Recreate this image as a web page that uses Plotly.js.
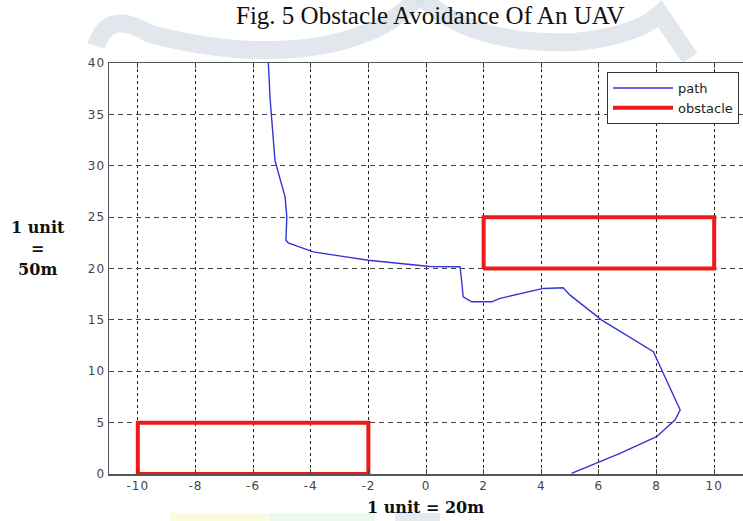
<!DOCTYPE html>
<html>
<head>
<meta charset="utf-8">
<script src="https://cdn.plot.ly/plotly-3.0.1.min.js"></script>
<style>
  html, body { margin: 0; padding: 0; background: #ffffff; }
  #chart { width: 743px; height: 521px; }
  #chart .xtick text, #chart .ytick text { letter-spacing: 1px; }
</style>
</head>
<body>
<div id="chart"></div>
<script>
// ---- data ----
const pathX = [5.05, 5.92, 6.73, 8.0, 8.64, 8.82, 8.0, 7.89, 6.10, 5.0, 4.76, 4.07, 2.57, 2.28, 1.59, 1.29, 1.24, 1.18, 0.14, -2.0, -2.95, -3.91, -4.78, -4.86, -4.83, -4.89, -5.24, -5.35, -5.41, -5.47];
const pathY = [0.07, 1.04, 2.01, 3.63, 5.25, 6.23, 11.09, 11.9, 14.98, 17.41, 18.12, 18.06, 17.09, 16.76, 16.76, 17.25, 18.71, 20.17, 20.2, 20.8, 21.2, 21.62, 22.5, 22.76, 25.03, 26.97, 30.5, 34.9, 36.55, 40];

const obstacle1X = [2, 10, 10, 2, 2];
const obstacle1Y = [20, 20, 25, 25, 20];
const obstacle2X = [-10, -2, -2, -10, -10];
const obstacle2Y = [0, 0, 5, 5, 0];

const xTicks = [-10, -8, -6, -4, -2, 0, 2, 4, 6, 8, 10];
const yTicks = [0, 5, 10, 15, 20, 25, 30, 35, 40];

const titleText = "Fig. 5 Obstacle Avoidance Of An UAV";
const xLabel = "1 unit = 20m";
const yLabel = "1 unit<br>=<br>50m";

// ---- layout geometry helpers (pixel -> paper) ----
const W = 743, H = 521;
const M = { l: 109, r: 0, t: 63, b: 47 };
const PW = W - M.l - M.r, PH = H - M.t - M.b;
const px = x => (x - M.l) / PW;
const py = y => (H - M.b - y) / PH;

function pathFromPixels(pts) {
  return pts.map(p => {
    const c = p[0];
    const nums = [];
    for (let i = 1; i < p.length; i += 2) nums.push(px(p[i]).toFixed(4) + ',' + py(p[i + 1]).toFixed(4));
    return c + nums.join(' ');
  }).join(' ');
}

const traces = [
  {
    x: pathX, y: pathY, type: 'scatter', mode: 'lines', name: 'path',
    line: { color: '#3434d4', width: 1.4 }
  },
  {
    x: obstacle1X, y: obstacle1Y, type: 'scatter', mode: 'lines', name: 'obstacle',
    line: { color: '#ee1a1a', width: 4 }
  },
  {
    x: obstacle2X, y: obstacle2Y, type: 'scatter', mode: 'lines', name: 'obstacle',
    line: { color: '#ee1a1a', width: 4 }, showlegend: false
  }
];

const wmColor = 'rgba(218,225,231,0.8)';
const shapes = [
  {
    type: 'path', xref: 'paper', yref: 'paper', layer: 'below',
    path: pathFromPixels([['M', 96, 46], ['Q', 108, 8, 150, 34], ['Q', 250, 60, 330, 44], ['Q', 392, 30, 418, -4]]),
    line: { color: wmColor, width: 18 }
  },
  {
    type: 'path', xref: 'paper', yref: 'paper', layer: 'below',
    path: pathFromPixels([['M', 420, -4], ['Q', 470, 46, 575, 42], ['Q', 636, 36, 660, 14], ['L', 690, 58]]),
    line: { color: wmColor, width: 18 }
  },
  { type: 'rect', xref: 'paper', yref: 'paper', layer: 'below',
    x0: px(170), x1: px(270), y0: py(513), y1: py(525), fillcolor: 'rgba(250,250,215,0.8)', line: { width: 0 } },
  { type: 'rect', xref: 'paper', yref: 'paper', layer: 'below',
    x0: px(270), x1: px(375), y0: py(513), y1: py(525), fillcolor: 'rgba(232,246,236,0.8)', line: { width: 0 } },
  { type: 'rect', xref: 'paper', yref: 'paper', layer: 'below',
    x0: px(395), x1: px(440), y0: py(513), y1: py(525), fillcolor: 'rgba(225,230,235,0.8)', line: { width: 0 } }
];

const layout = {
  width: W, height: H,
  margin: M,
  paper_bgcolor: '#ffffff',
  plot_bgcolor: '#ffffff',
  showlegend: true,
  legend: {
    x: px(739), y: py(72), xanchor: 'right', yanchor: 'top',
    bgcolor: '#ffffff', bordercolor: '#333333', borderwidth: 1,
    font: { family: 'DejaVu Sans, sans-serif', size: 13, color: '#222222' },
    itemwidth: 60, tracegroupgap: 2,
    entrywidth: 150, entrywidthmode: 'pixels'
  },
  xaxis: {
    range: [-11, 11], tickvals: xTicks, ticktext: xTicks.map(String),
    showline: true, linecolor: '#555555', linewidth: 1.5, mirror: 'ticks',
    ticks: 'inside', ticklen: 5, tickcolor: '#444444',
    showgrid: true, gridcolor: '#222222', gridwidth: 1, griddash: '3px,3px',
    zeroline: false, fixedrange: true,
    tickfont: { family: 'DejaVu Sans, sans-serif', size: 12, color: '#444444' }
  },
  yaxis: {
    range: [0, 40], tickvals: yTicks, ticktext: yTicks.map(String),
    showline: true, linecolor: '#555555', linewidth: 1.5, mirror: false,
    ticks: 'inside', ticklen: 5, tickcolor: '#444444',
    showgrid: true, gridcolor: '#444444', gridwidth: 1, griddash: '5px,4px',
    zeroline: false, fixedrange: true,
    tickfont: { family: 'DejaVu Sans, sans-serif', size: 12, color: '#444444' }
  },
  shapes: shapes,
  annotations: [
    {
      text: titleText, xref: 'paper', yref: 'paper', x: px(430), y: py(0),
      xanchor: 'center', yanchor: 'top', showarrow: false,
      font: { family: 'Liberation Serif, Times New Roman, serif', size: 25, color: '#111111' }
    },
    {
      text: '<b>' + xLabel + '</b>', xref: 'paper', yref: 'paper', x: px(425), y: py(507),
      xanchor: 'center', yanchor: 'middle', showarrow: false,
      font: { family: 'DejaVu Serif, serif', size: 16, color: '#111111' }
    },
    {
      text: '<b>' + yLabel + '</b>', xref: 'paper', yref: 'paper', x: px(38), y: py(248),
      xanchor: 'center', yanchor: 'middle', showarrow: false, align: 'center',
      font: { family: 'DejaVu Serif, serif', size: 16, color: '#111111' }
    }
  ]
};

Plotly.newPlot('chart', traces, layout, { staticPlot: true, displayModeBar: false });
</script>
</body>
</html>
